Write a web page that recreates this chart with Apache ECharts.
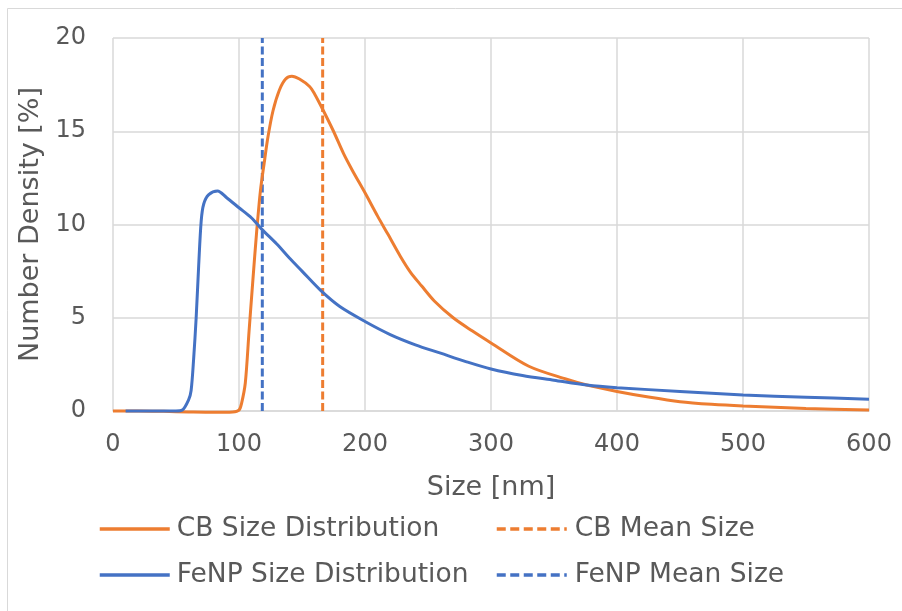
<!DOCTYPE html>
<html>
<head>
<meta charset="utf-8">
<script src="https://cdn.jsdelivr.net/npm/echarts@6/dist/echarts.min.js"></script>
<style>html,body{margin:0;padding:0;background:#fff}#c{width:902px;height:611px}</style>
</head>
<body>
<div id="c"></div>
<script>
const xTicks = [0, 100, 200, 300, 400, 500, 600];
const yTicks = [0, 5, 10, 15, 20];

const cbSize = [0,20,40,60,80,95,100,102,105,108,111,114,117,120,123,127,132,137,142,148,156,160,167,175,183,190,200,210,218,228,236,245,255,270,285,300,330,360,376,400,425,450,475,500,550,600];
const cbDensity = [0,0,-0.02,-0.05,-0.07,-0.05,0.05,0.4,1.5,4.3,7.0,9.6,11.8,13.3,14.7,16.1,17.2,17.8,17.95,17.8,17.4,17.0,16.1,15.0,13.8,12.9,11.7,10.45,9.5,8.3,7.45,6.7,5.9,5.0,4.3,3.65,2.4,1.7,1.39,1.05,0.75,0.5,0.36,0.27,0.14,0.05];

const feSize = [10,20,30,40,50,55,60,62,64,66,68,70,72,76,83,90,100,110,118,130,140,150,165,180,200,220,240,260,280,300,325,350,376,400,450,500,550,600];
const feDensity = [0,0,0,0,0,0.05,0.6,1.1,2.8,5.0,7.8,10.2,11.1,11.6,11.8,11.45,10.9,10.35,9.75,8.95,8.2,7.5,6.45,5.6,4.8,4.1,3.55,3.1,2.65,2.25,1.9,1.65,1.39,1.25,1.05,0.86,0.74,0.63];

const cbMean = 166.4;
const feMean = 118.5;

const ORANGE = '#ED7D31', BLUE = '#4472C4', GRID = '#D9D9D9', TXT = '#595959';
const FONT = '"DejaVu Sans", Verdana, sans-serif';

const zip = (a, b) => a.map((v, i) => [v, b[i]]);

const chart = echarts.init(document.getElementById('c'));
chart.setOption({
  animation: false,
  backgroundColor: '#fff',
  textStyle: { fontFamily: FONT },
  graphic: [{
    type: 'rect', shape: { x: 7.5, y: 8.5, width: 1000, height: 1000 },
    style: { fill: 'none', stroke: GRID, lineWidth: 1 }, silent: true, z: -10
  }],
  grid: { left: 113, top: 38, width: 756, height: 373, containLabel: false },
  xAxis: {
    type: 'value', min: xTicks[0], max: xTicks[xTicks.length - 1], interval: 100,
    name: 'Size [nm]', nameLocation: 'middle', nameGap: 63,
    nameTextStyle: { fontSize: 27, color: TXT, fontFamily: FONT },
    axisLine: { show: true, lineStyle: { color: GRID, width: 1.5 } },
    axisTick: { show: false },
    axisLabel: { fontSize: 24, color: TXT, margin: 22, fontFamily: FONT },
    splitLine: { show: true, lineStyle: { color: GRID, width: 1.5 } }
  },
  yAxis: {
    type: 'value', min: yTicks[0], max: yTicks[yTicks.length - 1], interval: 5,
    name: 'Number Density [%]', nameLocation: 'middle', nameGap: 65,
    nameTextStyle: { fontSize: 27, color: TXT, fontFamily: FONT },
    axisLine: { show: false },
    axisTick: { show: false },
    axisLabel: { fontSize: 24, color: TXT, margin: 27, fontFamily: FONT },
    splitLine: { show: true, lineStyle: { color: GRID, width: 1.5 } }
  },
  legend: [
    { left: 98, top: 515, padding: 0, orient: 'vertical', itemGap: 18, itemWidth: 70, itemHeight: 28,
      itemStyle: { opacity: 0 }, lineStyle: { width: 3.5 },
      textStyle: { fontSize: 26.5, lineHeight: 28, color: TXT, fontFamily: FONT, padding: [0,0,0,2] },
      data: ['CB Size Distribution', 'FeNP Size Distribution'] },
    { left: 495, top: 515, padding: 0, orient: 'vertical', itemGap: 18, itemWidth: 70, itemHeight: 28,
      itemStyle: { opacity: 0 }, lineStyle: { width: 3.5, type: [9, 4.5] },
      textStyle: { fontSize: 26.5, lineHeight: 28, color: TXT, fontFamily: FONT, padding: [0,0,0,3] },
      data: ['CB Mean Size', 'FeNP Mean Size'] }
  ],
  series: [
    { name: 'CB Size Distribution', type: 'line', data: zip(cbSize, cbDensity), smooth: 0.3,
      showSymbol: false, symbol: 'none', clip: false, lineStyle: { color: ORANGE, width: 3 }, itemStyle: { color: ORANGE }, z: 3 },
    { name: 'CB Mean Size', type: 'line', data: [[cbMean, 0], [cbMean, 20]], showSymbol: false, symbol: 'none',
      lineStyle: { color: ORANGE, width: 3, type: [8, 3.5] }, itemStyle: { color: ORANGE }, z: 2 },
    { name: 'FeNP Size Distribution', type: 'line', data: zip(feSize, feDensity), smooth: 0.3,
      showSymbol: false, symbol: 'none', clip: false, lineStyle: { color: BLUE, width: 3 }, itemStyle: { color: BLUE }, z: 4 },
    { name: 'FeNP Mean Size', type: 'line', data: [[feMean, 0], [feMean, 20]], showSymbol: false, symbol: 'none',
      lineStyle: { color: BLUE, width: 3, type: [8, 3.5] }, itemStyle: { color: BLUE }, z: 2 }
  ]
});
</script>
</body>
</html>
